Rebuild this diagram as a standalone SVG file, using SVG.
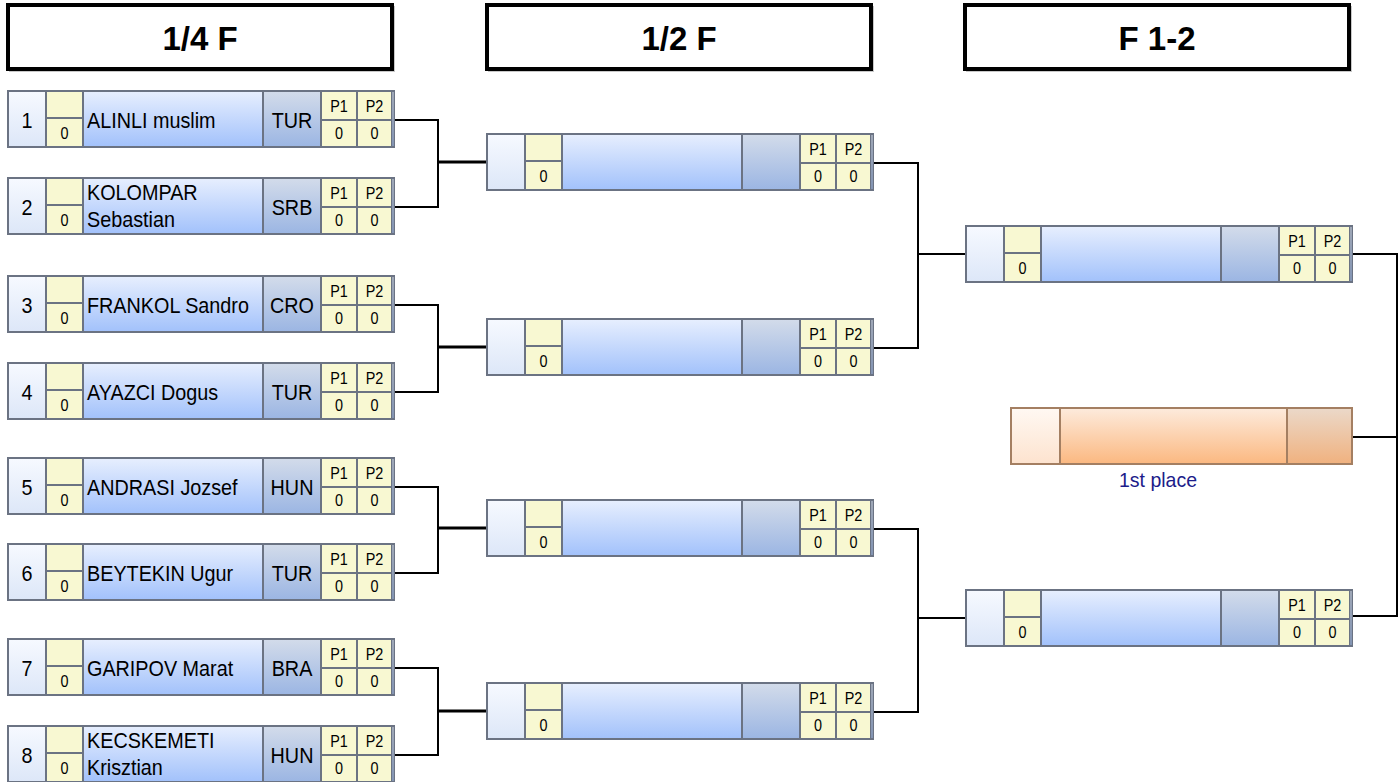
<svg xmlns="http://www.w3.org/2000/svg" xmlns:xlink="http://www.w3.org/1999/xlink" width="1400" height="782" viewBox="0 0 1400 782">
<style>
text{font-family:"Liberation Sans",Arial,sans-serif;fill:#000}
.hd{font-size:33px;font-weight:bold;text-anchor:middle}
.nm{font-size:22px}
.c{text-anchor:middle}
.big{font-size:22px}
.sm{font-size:16px}
.hdr{fill:#fff;stroke:#000;stroke-width:4}
.shd{fill:none;stroke:#c8c8c8;stroke-width:2}
.conn path{fill:none;stroke:#000;stroke-width:2}
.conn path.t{stroke-width:3}
.place{font-size:21px;fill:#1c1c8a;text-anchor:middle}
</style>
<defs>
<linearGradient id="gNum" x1="0" y1="0" x2="0" y2="1"><stop offset="0" stop-color="#f6f9ff"/><stop offset="1" stop-color="#dde7f8"/></linearGradient>
<linearGradient id="gName" x1="0" y1="0" x2="0" y2="1"><stop offset="0" stop-color="#e6eefe"/><stop offset="1" stop-color="#a3c2fb"/></linearGradient>
<linearGradient id="gCty" x1="0" y1="0" x2="0" y2="1"><stop offset="0" stop-color="#d2dbea"/><stop offset="1" stop-color="#9cb6e3"/></linearGradient>
<linearGradient id="oFirst" x1="0" y1="0" x2="0" y2="1"><stop offset="0" stop-color="#fff8f2"/><stop offset="1" stop-color="#fde3cf"/></linearGradient>
<linearGradient id="oMid" x1="0" y1="0" x2="0" y2="1"><stop offset="0" stop-color="#fdeadb"/><stop offset="1" stop-color="#fbb982"/></linearGradient>
<linearGradient id="oLast" x1="0" y1="0" x2="0" y2="1"><stop offset="0" stop-color="#ebd8c8"/><stop offset="1" stop-color="#f0b280"/></linearGradient>
<g id="box">
<rect x="0" y="0" width="388" height="58" fill="#6b7383"/>
<rect x="2" y="2" width="36" height="54" fill="url(#gNum)"/>
<rect x="40" y="2" width="35" height="25" fill="#f8f8d2"/>
<rect x="40" y="29" width="35" height="27" fill="#f8f8d2"/>
<rect x="77" y="2" width="178" height="54" fill="url(#gName)"/>
<rect x="257" y="2" width="56" height="54" fill="url(#gCty)"/>
<rect x="315" y="2" width="34" height="27" fill="#f8f8d2"/>
<rect x="315" y="31" width="34" height="25" fill="#f8f8d2"/>
<rect x="351" y="2" width="33" height="27" fill="#f8f8d2"/>
<rect x="351" y="31" width="33" height="25" fill="#f8f8d2"/>
<rect x="385.5" y="2" width="1" height="54" fill="url(#gCty)"/>
</g>
<g id="scores">
<text class="sm c" transform="translate(57.5,48.5) scale(0.9,1)">0</text>
<text class="sm c" transform="translate(332,21.5) scale(0.9,1)">P1</text>
<text class="sm c" transform="translate(367.5,21.5) scale(0.9,1)">P2</text>
<text class="sm c" transform="translate(332,48.5) scale(0.9,1)">0</text>
<text class="sm c" transform="translate(367.5,48.5) scale(0.9,1)">0</text>
</g>
</defs>

<g id="headers">
<g id="h-quarter"><rect class="shd" x="10" y="7" width="384" height="64"/><rect class="hdr" x="8" y="5" width="384" height="64"/><text class="hd" x="200" y="50">1/4 F</text></g>
<g id="h-semi"><rect class="shd" x="489" y="7" width="384" height="64"/><rect class="hdr" x="487" y="5" width="384" height="64"/><text class="hd" x="679" y="50">1/2 F</text></g>
<g id="h-final"><rect class="shd" x="967" y="7" width="384" height="64"/><rect class="hdr" x="965" y="5" width="384" height="64"/><text class="hd" x="1157" y="50">F 1-2</text></g>
</g>

<g class="conn" id="connectors">
<path d="M395,120 H438 V207 H395"/><path class="t" d="M438,162 H486"/>
<path d="M395,305 H438 V392 H395"/><path class="t" d="M438,347 H486"/>
<path d="M395,487 H438 V573 H395"/><path class="t" d="M438,528 H486"/>
<path d="M395,668 H438 V755 H395"/><path class="t" d="M438,711 H486"/>
<path d="M874,163 H918 V348 H874"/><path d="M918,254 H965"/>
<path d="M874,529 H918 V712 H874"/><path d="M918,618 H965"/>
<path d="M1353,254 H1397 V616 H1353"/><path d="M1353,437 H1397"/>
</g>

<g id="q1" transform="translate(7,90)"><use href="#box"/><use href="#scores"/><text class="big c" transform="translate(20,38) scale(0.9,1)">1</text><text class="nm" transform="translate(80,38) scale(0.9,1)">ALINLI muslim</text><text class="big c" transform="translate(285,38) scale(0.9,1)">TUR</text></g>
<g id="q2" transform="translate(7,177)"><use href="#box"/><use href="#scores"/><text class="big c" transform="translate(20,38) scale(0.9,1)">2</text><text class="nm" transform="translate(80,23) scale(0.9,1)">KOLOMPAR</text><text class="nm" transform="translate(80,50) scale(0.9,1)">Sebastian</text><text class="big c" transform="translate(285,38) scale(0.9,1)">SRB</text></g>
<g id="q3" transform="translate(7,275)"><use href="#box"/><use href="#scores"/><text class="big c" transform="translate(20,38) scale(0.9,1)">3</text><text class="nm" transform="translate(80,38) scale(0.9,1)">FRANKOL Sandro</text><text class="big c" transform="translate(285,38) scale(0.9,1)">CRO</text></g>
<g id="q4" transform="translate(7,362)"><use href="#box"/><use href="#scores"/><text class="big c" transform="translate(20,38) scale(0.9,1)">4</text><text class="nm" transform="translate(80,38) scale(0.9,1)">AYAZCI Dogus</text><text class="big c" transform="translate(285,38) scale(0.9,1)">TUR</text></g>
<g id="q5" transform="translate(7,457)"><use href="#box"/><use href="#scores"/><text class="big c" transform="translate(20,38) scale(0.9,1)">5</text><text class="nm" transform="translate(80,38) scale(0.9,1)">ANDRASI Jozsef</text><text class="big c" transform="translate(285,38) scale(0.9,1)">HUN</text></g>
<g id="q6" transform="translate(7,543)"><use href="#box"/><use href="#scores"/><text class="big c" transform="translate(20,38) scale(0.9,1)">6</text><text class="nm" transform="translate(80,38) scale(0.9,1)">BEYTEKIN Ugur</text><text class="big c" transform="translate(285,38) scale(0.9,1)">TUR</text></g>
<g id="q7" transform="translate(7,638)"><use href="#box"/><use href="#scores"/><text class="big c" transform="translate(20,38) scale(0.9,1)">7</text><text class="nm" transform="translate(80,38) scale(0.9,1)">GARIPOV Marat</text><text class="big c" transform="translate(285,38) scale(0.9,1)">BRA</text></g>
<g id="q8" transform="translate(7,725)"><use href="#box"/><use href="#scores"/><text class="big c" transform="translate(20,38) scale(0.9,1)">8</text><text class="nm" transform="translate(80,23) scale(0.9,1)">KECSKEMETI</text><text class="nm" transform="translate(80,50) scale(0.9,1)">Krisztian</text><text class="big c" transform="translate(285,38) scale(0.9,1)">HUN</text></g>

<g id="s1" transform="translate(486,133)"><use href="#box"/><use href="#scores"/></g>
<g id="s2" transform="translate(486,318)"><use href="#box"/><use href="#scores"/></g>
<g id="s3" transform="translate(486,499)"><use href="#box"/><use href="#scores"/></g>
<g id="s4" transform="translate(486,682)"><use href="#box"/><use href="#scores"/></g>

<g id="f1" transform="translate(965,225)"><use href="#box"/><use href="#scores"/></g>
<g id="f2" transform="translate(965,589)"><use href="#box"/><use href="#scores"/></g>

<g id="first-place">
<rect x="1010" y="407" width="343" height="58" fill="#a47f62"/>
<rect x="1012" y="409" width="47" height="54" fill="url(#oFirst)"/>
<rect x="1061" y="409" width="225" height="54" fill="url(#oMid)"/>
<rect x="1288" y="409" width="63" height="54" fill="url(#oLast)"/>
<text class="place" transform="translate(1158,487) scale(0.93,1)">1st place</text>
</g>
</svg>
